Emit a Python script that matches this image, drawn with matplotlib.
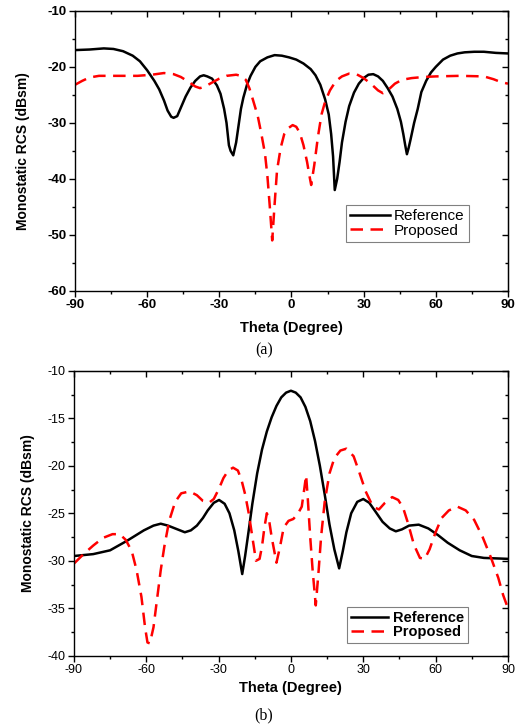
import matplotlib
matplotlib.use('Agg')
import matplotlib.pyplot as plt
from matplotlib.ticker import MultipleLocator

plt.rcParams['font.family'] = ['Liberation Sans', 'DejaVu Sans']
plt.rcParams['axes.unicode_minus'] = False

# (a) monostatic RCS
theta_ref_a = [-90, -84, -78, -74, -70, -66, -63, -60, -57, -55, -53, -51.5, -50, -49, -47.5, -46, -44, -42,
               -40, -38, -36.5, -35, -33, -31, -29.5, -28, -27, -26, -25.3, -24.2, -23, -22, -21, -20,
               -18.5, -17, -15, -13, -10, -7, -4, -1, 2, 5, 8, 10, 12, 14, 15.5, 16.5, 17.3, 18, 19, 20,
               21, 22.5, 24, 26, 28, 30, 32, 34, 36, 38, 40, 42, 44, 45.5, 46.5, 47.3, 48, 48.7, 49.5,
               51, 52.5, 54, 56, 58, 60, 63, 66, 69, 72, 76, 80, 85, 90]
rcs_ref_a = [-17.0, -16.9, -16.7, -16.8, -17.2, -18.0, -19.0, -20.6, -22.5, -24.0, -26.0, -27.8, -28.9,
             -29.1, -28.8, -27.3, -25.3, -23.7, -22.5, -21.7, -21.5, -21.7, -22.1, -23.3, -24.8, -27.5,
             -30.0, -34.0, -35.0, -35.8, -33.5, -30.5, -27.5, -25.5, -23.2, -21.6, -20.0, -19.0, -18.3,
             -17.9, -18.0, -18.3, -18.7, -19.4, -20.4, -21.5, -23.2, -25.8, -28.5, -32.0, -36.0, -42.0,
             -40.0, -37.0, -33.5, -29.8, -27.0, -24.6, -23.0, -22.0, -21.4, -21.3, -21.7, -22.5, -23.8,
             -25.3, -27.5, -29.8, -32.0, -34.0, -35.6, -34.5, -33.0, -30.0, -27.5, -24.5, -22.5, -21.0,
             -20.0, -18.7, -18.0, -17.6, -17.4, -17.3, -17.3, -17.5, -17.6]

theta_pro_a = [-90, -87, -84, -80, -72, -64, -58, -53, -49, -46, -43, -40, -38, -35.5, -33, -30, -27, -23,
               -21, -19, -17.5, -16, -14, -12.5, -11, -10, -9, -8, -7, -6, -4.5, -3, -1.5, 0.5, 2, 3.5,
               5, 6.5, 7.5, 8.2, 9.5, 11, 12.5, 14, 16, 18.5, 21, 24, 27, 30, 33, 36, 38, 40.5, 43, 46,
               50, 55, 60, 70, 80, 84, 87, 90]
rcs_pro_a = [-23.2, -22.5, -21.9, -21.6, -21.6, -21.6, -21.4, -21.1, -21.3, -21.8, -22.6, -23.5, -23.8,
             -23.4, -22.8, -22.1, -21.6, -21.4, -21.6, -22.3, -23.8, -25.9, -28.8, -32.0, -35.5, -39.5,
             -45.0, -51.0, -44.5, -38.5, -34.5, -32.0, -31.0, -30.4, -30.7, -31.8, -34.0, -37.0, -39.5,
             -41.1, -37.5, -32.5, -28.5, -26.2, -24.2, -22.5, -21.7, -21.2, -21.3, -22.0, -23.0, -24.2,
             -24.7, -24.0, -23.0, -22.3, -22.0, -21.8, -21.7, -21.6, -21.7, -22.2, -22.7, -23.0]

# (b)
theta_ref_b = [-90, -82, -75, -68, -61, -57, -54, -51, -48, -44, -41.5, -39, -36.5, -34.5, -32, -29.8,
               -27.5, -25.5, -23.5, -21.8, -20.2, -19, -17.5, -16, -14, -12, -10, -8, -6, -4, -2, 0, 2,
               4, 6, 8, 10, 12, 14, 16, 18, 20, 21.5, 23, 25, 27.5, 30, 32.5, 35, 38, 41, 43.5, 46, 49,
               53, 57, 61, 65, 70, 75, 80, 90]
rcs_ref_b = [-29.5, -29.3, -28.9, -27.9, -26.8, -26.3, -26.1, -26.3, -26.6, -27.0, -26.8, -26.3, -25.5,
             -24.7, -23.9, -23.6, -24.0, -25.0, -26.8, -29.0, -31.4, -29.5, -26.8, -24.0, -20.8, -18.3,
             -16.4, -14.9, -13.7, -12.8, -12.3, -12.1, -12.3, -12.8, -13.8, -15.3, -17.4, -20.0, -23.0,
             -26.2, -28.8, -30.8, -29.0, -27.0, -25.0, -23.8, -23.5, -23.9, -24.8, -25.9, -26.6, -26.9,
             -26.7, -26.3, -26.2, -26.6, -27.3, -28.1, -28.9, -29.5, -29.7, -29.8]

theta_pro_b = [-90, -86, -82, -78, -74, -71, -68.5, -66, -64, -62, -60.5, -59.5, -58.5, -57, -55.5, -54,
               -52.5, -50.5, -48, -45.5, -42, -39, -36.5, -34, -32, -30, -28, -26, -24, -22, -20.5, -19,
               -17.5, -16, -14.5, -13, -12, -11, -10, -9.2, -8, -6, -4.5, -3, -1, 1, 3, 4.5, 5.5, 6.3,
               7, 8, 9, 10.3, 11.5, 12.5, 14, 16, 18, 20.5, 23, 26, 28.5, 31, 34, 36.5, 39, 42, 44.5,
               46.5, 48.5, 51, 53.5, 55.5, 57.5, 60, 62.5, 65.5, 69, 72.5, 76, 79.5, 83, 86, 88, 90]
rcs_pro_b = [-30.3, -29.3, -28.4, -27.6, -27.2, -27.2, -27.8, -29.0, -31.0, -33.8, -37.0, -38.6, -38.7,
             -37.0, -34.0, -31.0, -28.5, -25.8, -23.8, -22.9, -22.7, -23.1, -23.7, -23.9, -23.5, -22.5,
             -21.3, -20.5, -20.2, -20.5, -21.5, -23.0, -25.0, -27.5, -30.0, -29.8, -28.5, -26.5, -25.0,
             -25.5, -27.5, -30.2, -28.5, -26.5, -25.8, -25.6, -25.0, -24.3, -22.5, -21.0, -23.5, -27.5,
             -31.0, -34.7, -31.0, -27.5, -23.8, -20.8, -19.2, -18.4, -18.2, -19.0, -20.8, -22.7, -24.3,
             -24.6, -23.9, -23.3, -23.6, -24.4, -26.0, -28.3, -29.7, -29.8, -28.8, -27.0, -25.5, -24.7,
             -24.3, -24.7, -25.7, -27.5, -29.7, -31.8, -33.6, -35.0]

x_ticks = [-90, -60, -30, 0, 30, 60, 90]

fig = plt.figure(figsize=(5.28, 7.27), dpi=100)
ax1 = fig.add_axes([0.142, 0.600, 0.820, 0.385])
ax2 = fig.add_axes([0.140, 0.098, 0.822, 0.392])


def style_axes(ax, ylim, ymajor, yminor, bold_ticks, tick_size, ylab_x, xlab_y):
    ax.set_xlim(-90, 90)
    ax.set_ylim(*ylim)
    ax.set_xticks(x_ticks)
    ax.xaxis.set_minor_locator(MultipleLocator(15))
    ax.yaxis.set_major_locator(MultipleLocator(ymajor))
    ax.yaxis.set_minor_locator(MultipleLocator(yminor))
    ax.tick_params(which='major', direction='out', length=4, width=1, labelsize=tick_size, pad=2)
    ax.tick_params(which='minor', direction='out', length=2.5, width=1)
    for s in ax.spines.values():
        s.set_linewidth(1.0)
    w = 'bold' if bold_ticks else 'normal'
    for lab in ax.get_xticklabels() + ax.get_yticklabels():
        lab.set_fontweight(w)
    # mirrored ticks on top / right, pointing in
    top = ax.secondary_xaxis('top')
    top.set_xticks(x_ticks)
    top.xaxis.set_minor_locator(MultipleLocator(15))
    top.tick_params(which='major', direction='in', length=4, width=1, labeltop=False)
    top.tick_params(which='minor', direction='in', length=2.5, width=1)
    right = ax.secondary_yaxis('right')
    right.yaxis.set_major_locator(MultipleLocator(ymajor))
    right.yaxis.set_minor_locator(MultipleLocator(yminor))
    right.tick_params(which='major', direction='in', length=4, width=1, labelright=False)
    right.tick_params(which='minor', direction='in', length=2.5, width=1)
    ax.set_xlabel('Theta (Degree)', fontsize=10.5, fontweight='bold')
    ax.set_ylabel('Monostatic RCS (dBsm)', fontsize=10, fontweight='bold')
    ax.yaxis.set_label_coords(ylab_x, 0.5)
    ax.xaxis.set_label_coords(0.5, xlab_y)


ax1.plot(theta_ref_a, rcs_ref_a, color='black', lw=1.8, label='Reference')
ax1.plot(theta_pro_a, rcs_pro_a, color='#ff0000', lw=1.8, dashes=(5, 3), label='Proposed')
style_axes(ax1, (-60, -10), 10, 5, True, 9.5, -0.104, -0.108)
leg1 = ax1.legend(loc='upper left', bbox_to_anchor=(0.626, 0.306), borderaxespad=0, fancybox=False,
                  edgecolor='#808080', fontsize=11, handlelength=2.6, handletextpad=0.3,
                  borderpad=0.25, labelspacing=0.05, framealpha=1)
leg1.get_frame().set_linewidth(0.8)

ax2.plot(theta_ref_b, rcs_ref_b, color='black', lw=1.8, label='Reference')
ax2.plot(theta_pro_b, rcs_pro_b, color='#ff0000', lw=1.8, dashes=(5, 3), label='Proposed')
style_axes(ax2, (-40, -10), 5, 2.5, False, 9, -0.090, -0.089)
leg2 = ax2.legend(loc='upper left', bbox_to_anchor=(0.629, 0.171), borderaxespad=0, fancybox=False,
                  edgecolor='#808080', handlelength=2.6, handletextpad=0.3,
                  borderpad=0.25, labelspacing=0.05, framealpha=1, prop={'weight': 'bold', 'size': 10.5})
leg2.get_frame().set_linewidth(0.8)

fig.text(264 / 528, 1 - 350 / 727, '(a)', ha='center', va='center', fontsize=11.5,
         family='Liberation Serif')
fig.text(264 / 528, 1 - 715 / 727, '(b)', ha='center', va='center', fontsize=11.5,
         family='Liberation Serif')

fig.savefig('out.png', dpi=100)
